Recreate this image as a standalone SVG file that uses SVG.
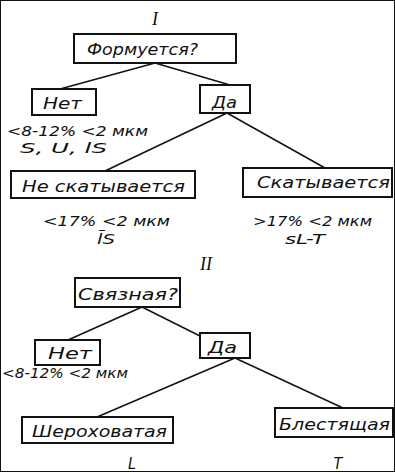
<svg xmlns="http://www.w3.org/2000/svg" width="395" height="472" viewBox="0 0 395 472">
<style>
text{font-family:"DejaVu Sans Condensed","Liberation Sans",sans-serif;font-style:italic;fill:#111}
.b{font-size:16px}
.l{font-size:14px}
.n{font-family:"Liberation Serif",serif;font-style:italic;font-size:18px}
rect{fill:#fff;stroke:#111;stroke-width:2}
#connectors line{stroke:#111;stroke-width:1.5}
</style>
<rect width="395" height="472" fill="#fff" stroke="none"/>
<g id="connectors">
<line x1="155" y1="63" x2="60" y2="89"/>
<line x1="155" y1="63" x2="230" y2="85"/>
<line x1="227" y1="113" x2="105" y2="171"/>
<line x1="227" y1="113" x2="325" y2="168"/>
<line x1="142" y1="307" x2="68" y2="340"/>
<line x1="142" y1="307" x2="200" y2="336"/>
<line x1="235" y1="358" x2="97" y2="417"/>
<line x1="235" y1="358" x2="343" y2="408"/>
</g>
<g id="label-I"><text class="n" x="155" y="25" text-anchor="middle">I</text></g>
<g id="n1"><rect x="74" y="34" width="162" height="29"/><text class="b" x="87" y="55" textLength="111" lengthAdjust="spacingAndGlyphs">Формуется?</text></g>
<g id="n2"><rect x="32" y="89" width="64" height="26"/><text class="b" x="43" y="109" textLength="39" lengthAdjust="spacingAndGlyphs">Нет</text>
<text class="l" x="7" y="136" textLength="141" lengthAdjust="spacingAndGlyphs">&lt;8-12% &lt;2 мкм</text>
<text class="l" x="20" y="153" textLength="87" lengthAdjust="spacingAndGlyphs">S, U,  lS</text></g>
<g id="n3"><rect x="200" y="85" width="50" height="28"/><text class="b" x="212" y="108" textLength="25" lengthAdjust="spacingAndGlyphs">Да</text></g>
<g id="n4"><rect x="11" y="171" width="184" height="27"/><text class="b" x="22" y="192" textLength="163" lengthAdjust="spacingAndGlyphs">Не скатывается</text>
<text class="l" x="43" y="226" textLength="127" lengthAdjust="spacingAndGlyphs">&lt;17% &lt;2 мкм</text>
<text class="l" x="97" y="244" textLength="18" lengthAdjust="spacingAndGlyphs">l̄S</text></g>
<g id="n5"><rect x="243" y="168" width="149" height="29"/><text class="b" x="257" y="188" textLength="133" lengthAdjust="spacingAndGlyphs">Скатывается</text>
<text class="l" x="253" y="226" textLength="119" lengthAdjust="spacingAndGlyphs">&gt;17% &lt;2 мкм</text>
<text class="l" x="285" y="244" textLength="40" lengthAdjust="spacingAndGlyphs">sL-T</text></g>
<g id="label-II"><text class="n" x="206" y="270" text-anchor="middle">II</text></g>
<g id="n6"><rect x="75" y="278" width="105" height="29"/><text class="b" x="78" y="300" textLength="100" lengthAdjust="spacingAndGlyphs">Связная?</text></g>
<g id="n7"><rect x="35" y="340" width="65" height="25"/><text class="b" x="48" y="359" textLength="44" lengthAdjust="spacingAndGlyphs">Нет</text>
<text class="l" x="2" y="378" textLength="126" lengthAdjust="spacingAndGlyphs">&lt;8-12% &lt;2 мкм</text></g>
<g id="n8"><rect x="200" y="333" width="50" height="25"/><text class="b" x="208" y="353" textLength="29" lengthAdjust="spacingAndGlyphs">Да</text></g>
<g id="n9"><rect x="22" y="417" width="151" height="26"/><text class="b" x="32" y="437" textLength="135" lengthAdjust="spacingAndGlyphs">Шероховатая</text>
<text class="b" x="132" y="469" text-anchor="middle">L</text></g>
<g id="n10"><rect x="275" y="408" width="118" height="29"/><text class="b" x="279" y="430" textLength="111" lengthAdjust="spacingAndGlyphs">Блестящая</text>
<text class="b" x="338" y="469" text-anchor="middle">T</text></g>
</svg>
